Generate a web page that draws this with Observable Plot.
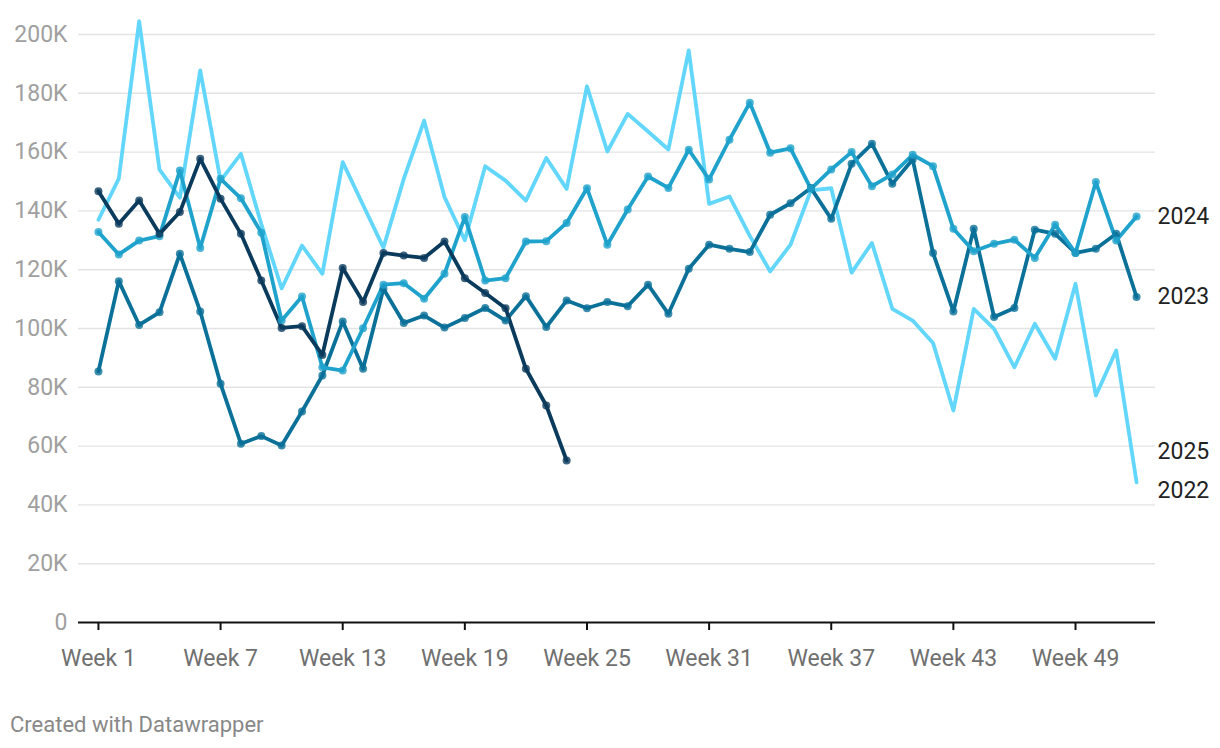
<!DOCTYPE html>
<html><head><meta charset="utf-8">
<script src="https://cdn.jsdelivr.net/npm/d3@7"></script>
<script src="https://cdn.jsdelivr.net/npm/@observablehq/plot@0.6"></script>
<style>
body{margin:0;background:#fff;font-family:Roboto,sans-serif;}
#caption{font-size:22px;color:#888;margin:22px 0 0 10px;line-height:26px;}
</style></head><body>
<div id="chart"></div>
<div id="caption">Created with Datawrapper</div>
<script>
const weeks = [1,2,3,4,5,6,7,8,9,10,11,12,13,14,15,16,17,18,19,20,21,22,23,24,25,26,27,28,29,30,31,32,33,34,35,36,37,38,39,40,41,42,43,44,45,46,47,48,49,50,51,52];
const tickWeeks = [1,7,13,19,25,31,37,43,49];
const yTicks = [0,20000,40000,60000,80000,100000,120000,140000,160000,180000,200000];
const seriesNames = ["2022","2023","2024","2025"];
const seriesColors = ["#62d6fb","#0b7199","#1fa2cc","#0b3b5c"];
// values in thousands
const v2022 = [137,151,204.5,154,144.5,187.8,150.3,159.4,135.5,113.6,128.2,118.6,156.6,142,127.5,150.9,170.7,144.7,130,155.2,150.3,143.5,158,147.5,182.4,160.2,173,167,160.9,194.6,142.4,144.9,131.5,119.4,128.5,147,147.7,119,129.1,106.7,102.7,95.1,72.1,106.7,99.9,86.8,101.6,89.7,115.2,77.2,92.5,47.7];
const v2023 = [85.4,116.1,101.2,105.5,125.4,105.8,81.2,60.8,63.4,60.2,71.8,84,102.4,86.3,113.5,101.9,104.4,100.3,103.6,107,102.7,111,100.5,109.5,106.9,109,107.6,114.9,105,120.3,128.5,127.1,126,138.7,142.6,147.8,137.3,156,162.8,149.2,157.5,125.7,105.8,133.9,103.9,107,133.6,132.2,125.7,127.1,132.2,110.7];
const v2024 = [132.8,125.2,129.9,131.4,153.7,127.4,150.9,144.3,132.6,102.7,110.9,86.8,85.7,100.1,114.9,115.4,110.1,118.6,137.9,116.3,117.1,129.6,129.7,135.9,147.7,128.5,140.5,151.7,147.8,160.8,150.7,164.2,176.8,159.8,161.3,147.5,154.1,160,148.4,152.4,159.1,155.2,133.9,126.3,128.8,130.2,124,135.3,125.7,149.8,129.9,138.1];
const v2025 = [146.7,135.6,143.5,132.2,139.6,157.7,144.1,132.2,116.3,100.2,100.8,91,120.6,109,125.7,124.8,124,129.6,117.1,112.1,106.9,86.3,73.8,55.1];
const seriesValues = [v2022, v2023, v2024, v2025];
const labelOffsets = {"2022": 8, "2023": 0, "2024": 0, "2025": -9};

const rows = [];
seriesNames.forEach((name, si) => seriesValues[si].forEach((v, i) => rows.push({year: name, week: weeks[i], value: v * 1000})));
const lastWeek = weeks[weeks.length - 1];
const lastRows = seriesNames.map((name, si) => ({year: name, week: lastWeek, value: seriesValues[si][seriesValues[si].length - 1] * 1000}));

const chart = Plot.plot({
  width: 1220, height: 690,
  marginLeft: 78, marginRight: 65, marginTop: 34, marginBottom: 68,
  style: {fontFamily: "Roboto, sans-serif", fontSize: "23px", background: "#fff", overflow: "visible"},
  x: {domain: [0.02, 52.93]},
  y: {domain: [0, 200000]},
  color: {domain: seriesNames, range: seriesColors},
  marks: [
    Plot.ruleY(yTicks.filter(d => d > 0), {stroke: "#e3e3e3", strokeWidth: 1.4}),
    Plot.axisY({ticks: yTicks, tickSize: 0, tickPadding: 11, tickFormat: d => d === 0 ? "0" : (d / 1000) + "K", fill: "#a0a0a0", label: null}),
    Plot.axisX({ticks: tickWeeks, tickFormat: d => "Week " + d, tickSize: 8, tickPadding: 19, stroke: "#111", strokeWidth: 2, fill: "#707070", label: null}),
    Plot.ruleY([0], {stroke: "#111", strokeWidth: 2}),
    Plot.line(rows, {x: "week", y: "value", z: "year", stroke: "year", strokeWidth: 3.8, strokeLinejoin: "round", strokeLinecap: "round"}),
    Plot.dot(rows.filter(d => d.year !== "2022"), {x: "week", y: "value", fill: "year", r: 4, fillOpacity: 0.8}),
    ...lastRows.map(d => Plot.text([d], {x: "week", y: "value", text: "year", textAnchor: "start", dx: 21, dy: labelOffsets[d.year], fill: "#222", fontSize: 23}))
  ]
});
document.getElementById("chart").append(chart);
</script>
</body></html>
